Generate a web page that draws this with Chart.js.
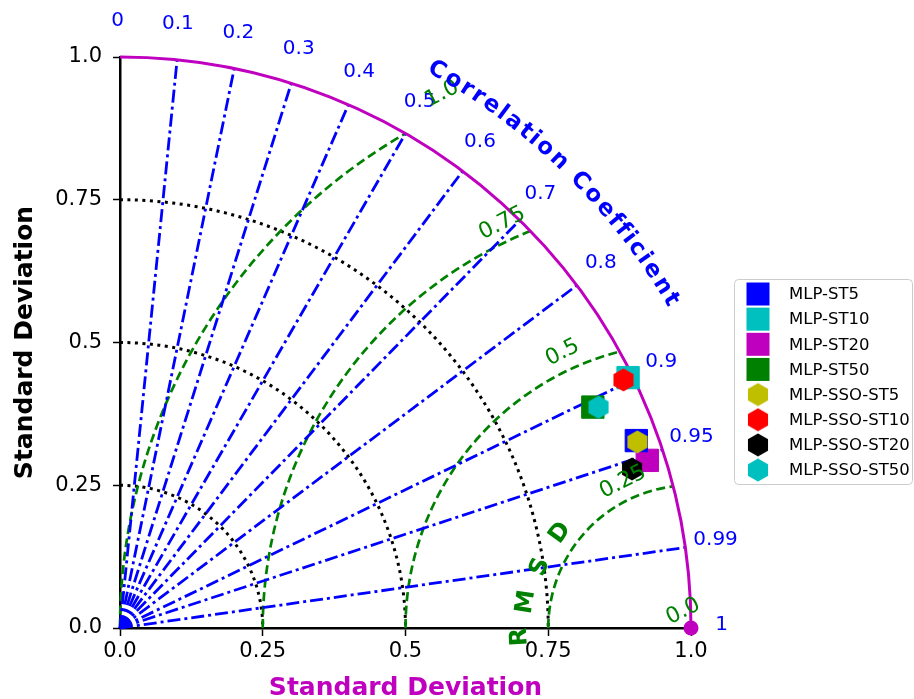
<!DOCTYPE html>
<html>
<head>
<meta charset="utf-8">
<script src="https://cdn.jsdelivr.net/npm/chart.js@4.4.1/dist/chart.umd.min.js"></script>
<style>
    html, body { margin: 0; padding: 0; background: #fff; }
    canvas { display: block; }
</style>
</head>
<body>
<canvas id="graficoTaylor" width="914" height="699"></canvas>
<script>
// Datos de los modelos (desviacion estandar normalizada y coeficiente de correlacion)
const modelos = ['MLP-ST5', 'MLP-ST10', 'MLP-ST20', 'MLP-ST50', 'MLP-SSO-ST5', 'MLP-SSO-ST10', 'MLP-SSO-ST20', 'MLP-SSO-ST50'];
const desviaciones = [0.962, 0.992, 0.969, 0.914, 0.963, 0.983, 0.939, 0.923];
const correlaciones = [0.940, 0.897, 0.953, 0.906, 0.941, 0.897, 0.955, 0.908];
const colores = ['#0000ff', '#00bfbf', '#bf00bf', '#008000', '#bfbf00', '#ff0000', '#000000', '#00bfbf'];
const formas = ['cuadrado', 'cuadrado', 'cuadrado', 'cuadrado', 'hexagono', 'hexagono', 'hexagono', 'hexagono'];

// Punto de referencia
const desviacionReferencia = 1.0;

// Rejilla del diagrama
const ticksCorrelacion = [0, 0.1, 0.2, 0.3, 0.4, 0.5, 0.6, 0.7, 0.8, 0.9, 0.95, 0.99, 1];
const contornosDesviacion = [0.25, 0.5, 0.75];
const contornosRMSD = [0.0, 0.25, 0.5, 0.75, 1.0];
const ticksEje = [0, 0.25, 0.5, 0.75, 1.0];
const etiquetasEje = ['0.0', '0.25', '0.5', '0.75', '1.0'];

const FUENTE = 'DejaVu Sans';
const AZUL = '#0000ff';
const VERDE = '#008000';
const MAGENTA = '#bf00bf';

// Hexagono (punta arriba) como imagen para pointStyle
function crearHexagono(color) {
    const c = document.createElement('canvas');
    c.width = 24;
    c.height = 24;
    const g = c.getContext('2d');
    g.fillStyle = color;
    g.beginPath();
    for (let k = 0; k < 6; k++) {
        const a = -Math.PI / 2 + k * Math.PI / 3;
        const px = 12 + 11.6 * Math.cos(a);
        const py = 12 + 11.6 * Math.sin(a);
        if (k === 0) g.moveTo(px, py); else g.lineTo(px, py);
    }
    g.closePath();
    g.fill();
    return c;
}

const datasets = modelos.map((nombre, i) => {
    const r = desviaciones[i];
    const c = correlaciones[i];
    const esCuadrado = formas[i] === 'cuadrado';
    return {
        label: nombre,
        data: [{ x: r * c, y: r * Math.sqrt(1 - c * c) }],
        pointStyle: esCuadrado ? 'rect' : crearHexagono(colores[i]),
        pointRadius: esCuadrado ? 15.8 : 12,
        backgroundColor: colores[i],
        borderColor: colores[i],
        borderWidth: esCuadrado ? 1 : 0,
        order: esCuadrado ? 1 : 0,
        clip: false
    };
});

datasets.push({
    label: 'Referencia',
    esReferencia: true,
    data: [{ x: desviacionReferencia, y: 0 }],
    pointStyle: 'circle',
    pointRadius: 7.5,
    backgroundColor: MAGENTA,
    borderColor: MAGENTA,
    borderWidth: 0,
    order: 0,
    clip: false
});

// Plugin: rejilla polar (contornos, lineas de correlacion, RMSD)
const rejillaTaylor = {
    id: 'rejillaTaylor',
    beforeDatasetsDraw(chart) {
        const { ctx, scales: { x, y } } = chart;
        const ox = x.getPixelForValue(0);
        const oy = y.getPixelForValue(0);
        const escala = x.getPixelForValue(1) - ox;
        ctx.save();

        // Contornos de desviacion estandar
        ctx.strokeStyle = '#000';
        ctx.lineWidth = 3;
        ctx.setLineDash([3, 4.5]);
        contornosDesviacion.forEach(r => {
            ctx.beginPath();
            ctx.arc(ox, oy, r * escala, -Math.PI / 2, 0);
            ctx.stroke();
        });

        // Contornos RMSD centrados en la referencia
        const cx = x.getPixelForValue(desviacionReferencia);
        ctx.strokeStyle = VERDE;
        ctx.lineWidth = 2.7;
        ctx.setLineDash([9, 4.5]);
        contornosRMSD.filter(p => p > 0).forEach(p => {
            const phiMax = Math.acos(p / (2 * desviacionReferencia));
            ctx.beginPath();
            ctx.arc(cx, oy, p * escala, Math.PI, Math.PI + phiMax);
            ctx.stroke();
        });

        // Lineas de correlacion
        ctx.strokeStyle = AZUL;
        ctx.lineWidth = 2.8;
        ctx.setLineDash([13, 4, 3, 4]);
        ticksCorrelacion.filter(c => c > 0 && c < 1).forEach(c => {
            ctx.beginPath();
            ctx.moveTo(ox, oy);
            ctx.lineTo(ox + c * escala, oy - Math.sqrt(1 - c * c) * escala);
            ctx.stroke();
        });

        // Arco exterior
        ctx.setLineDash([]);
        ctx.strokeStyle = MAGENTA;
        ctx.lineWidth = 3;
        ctx.beginPath();
        ctx.arc(ox, oy, escala, -Math.PI / 2, 0);
        ctx.stroke();

        ctx.restore();
    },
    afterDatasetsDraw(chart) {
        const { ctx, scales: { x, y } } = chart;
        const ox = x.getPixelForValue(0);
        const oy = y.getPixelForValue(0);
        const escala = x.getPixelForValue(1) - ox;
        const cx = x.getPixelForValue(desviacionReferencia);
        ctx.save();

        // Etiquetas de correlacion
        ctx.fillStyle = AZUL;
        ctx.font = '20px "' + FUENTE + '"';
        ctx.textAlign = 'center';
        ctx.textBaseline = 'middle';
        ticksCorrelacion.forEach(c => {
            const s = Math.sqrt(1 - c * c);
            const texto = c === 0 ? '0' : (c === 1 ? '1' : String(c));
            ctx.fillText(texto, ox + 1.058 * escala * c - 2.5, oy - 1.058 * escala * s - 3);
        });

        // Etiquetas de RMSD
        ctx.fillStyle = VERDE;
        ctx.font = '22px "' + FUENTE + '"';
        const angEtiqueta = 115 * Math.PI / 180;
        contornosRMSD.forEach(p => {
            const d = (p + 0.032) * escala;
            const texto = p === 0 ? '0.0' : (p === 1 ? '1.0' : String(p));
            ctx.save();
            ctx.translate(cx + d * Math.cos(angEtiqueta), oy - d * Math.sin(angEtiqueta));
            ctx.rotate(-27 * Math.PI / 180);
            ctx.fillText(texto, 0, 0);
            ctx.restore();
        });

        // Titulo RMSD sobre un arco alrededor de la referencia
        ctx.font = 'bold 24px "' + FUENTE + '"';
        const letrasRMSD = ['R', 'M', 'S', 'D'];
        const angulosRMSD = [183, 171, 158, 144];
        const radiosRMSD = [0.300, 0.292, 0.285, 0.283];
        letrasRMSD.forEach((ch, i) => {
            const phi = angulosRMSD[i] * Math.PI / 180;
            const d = radiosRMSD[i] * escala;
            ctx.save();
            ctx.translate(cx + d * Math.cos(phi), oy - d * Math.sin(phi));
            ctx.rotate((90 - angulosRMSD[i]) * Math.PI / 180);
            ctx.fillText(ch, 0, 0);
            ctx.restore();
        });

        // Titulo curvo "Correlation Coefficient"
        const titulo = 'Correlation Coefficient';
        ctx.fillStyle = AZUL;
        ctx.font = 'bold 23px "' + FUENTE + '"';
        const anchos = titulo.split('').map(ch => ctx.measureText(ch).width);
        const centros = [];
        let acum = 0;
        anchos.forEach(w => { centros.push(acum + w / 2); acum += w; });
        const ini = 60.4, fin = 30.8, radio = 1.123 * escala;
        titulo.split('').forEach((ch, i) => {
            const t = (centros[i] - centros[0]) / (centros[centros.length - 1] - centros[0]);
            const th = (ini + (fin - ini) * t) * Math.PI / 180;
            ctx.save();
            ctx.translate(ox + radio * Math.cos(th), oy - radio * Math.sin(th));
            ctx.rotate(Math.PI / 2 - th);
            ctx.fillText(ch, 0, 0);
            ctx.restore();
        });

        ctx.restore();
    },
    afterDraw(chart) {
        // Leyenda con recuadro
        const { ctx } = chart;
        const series = chart.data.datasets.filter(ds => !ds.esReferencia);
        ctx.save();
        ctx.fillStyle = 'rgba(255,255,255,0.9)';
        ctx.strokeStyle = '#cccccc';
        ctx.lineWidth = 1;
        ctx.beginPath();
        ctx.roundRect(734.5, 279.5, 178, 205, 4);
        ctx.fill();
        ctx.stroke();
        ctx.font = '16.5px "' + FUENTE + '"';
        ctx.textAlign = 'left';
        ctx.textBaseline = 'middle';
        series.forEach((ds, i) => {
            const yy = 294 + i * 25.15;
            if (ds.pointStyle === 'rect') {
                ctx.fillStyle = ds.backgroundColor;
                ctx.fillRect(758 - 11.5, yy - 11.5, 23, 23);
            } else {
                ctx.drawImage(ds.pointStyle, 758 - 12, yy - 12);
            }
            ctx.fillStyle = '#000';
            ctx.fillText(ds.label, 789, yy + 1);
        });
        ctx.restore();
    }
};

const ejeComun = (titulo, colorTitulo, ajuste) => ({
    type: 'linear',
    min: 0,
    max: 1,
    afterBuildTicks: s => { s.ticks = ticksEje.map(v => ({ value: v })); },
    ticks: {
        callback: (v, i) => etiquetasEje[i],
        font: { family: FUENTE, size: 21 },
        color: '#000',
        autoSkip: false,
        maxRotation: 0
    },
    grid: { drawOnChartArea: false, color: '#000', tickColor: '#000', tickLength: 8, tickWidth: 1.5 },
    border: { color: '#000', width: 2.5 },
    title: {
        display: true,
        text: titulo,
        color: colorTitulo,
        font: { family: FUENTE, size: 25, weight: 'bold', lineHeight: 0.85 }
    },
    afterFit: ajuste
});

const ejeX = ejeComun('Standard Deviation', MAGENTA, s => { s.height = 71; });
ejeX.ticks.padding = 3;
ejeX.title.padding = { top: 0, bottom: 0 };
const ejeY = ejeComun('Standard Deviation', '#000', s => { s.width = 120; });
ejeY.ticks.padding = 11;
ejeY.grid.tickLength = 7;
ejeY.title.padding = { top: 15, bottom: 0 };

new Chart(document.getElementById('graficoTaylor').getContext('2d'), {
    type: 'scatter',
    data: { datasets },
    options: {
        responsive: false,
        animation: false,
        events: [],
        layout: { padding: { left: 0, top: 57, right: 223, bottom: 0 } },
        scales: { x: ejeX, y: ejeY },
        plugins: {
            legend: { display: false },
            tooltip: { enabled: false }
        }
    },
    plugins: [rejillaTaylor]
});
</script>
</body>
</html>
